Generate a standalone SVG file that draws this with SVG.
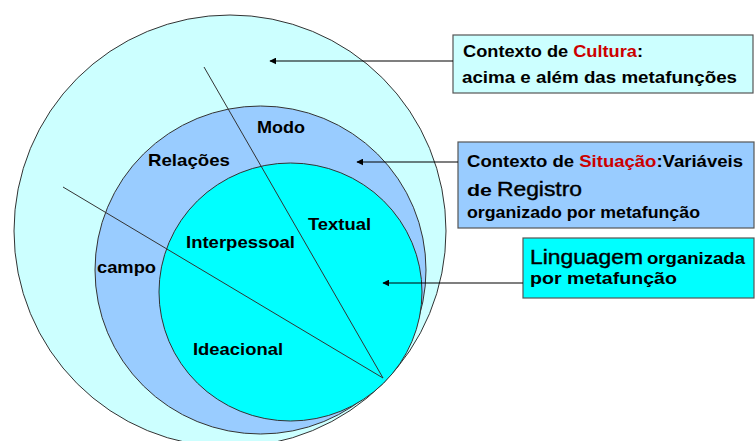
<svg xmlns="http://www.w3.org/2000/svg" width="755" height="441" viewBox="0 0 755 441">
<style>
.c{stroke:#333;stroke-width:1}
.l{font-family:"Liberation Sans",Arial,sans-serif;font-weight:bold;font-size:17px;fill:#000}
.b{font-family:"Liberation Sans",Arial,sans-serif;font-weight:bold;font-size:17px;fill:#000}
.n{font-family:"Liberation Sans",Arial,sans-serif;font-size:20px;fill:#000;stroke:#000;stroke-width:0.4}
.r{fill:#cc0000}
.box{stroke:#555;stroke-width:1.2}
.con{stroke:#000;stroke-width:1.2;fill:none;marker-end:url(#ah)}
</style>
<defs>
<marker id="ah" viewBox="0 0 10 10" refX="9" refY="5" markerWidth="7" markerHeight="7" markerUnits="userSpaceOnUse" orient="auto">
<path d="M0,0 L10,5 L0,10 z" fill="#000"/>
</marker>
</defs>
<rect width="755" height="441" fill="#fff"/>
<g id="cultura-circle"><circle cx="230" cy="231" r="216" fill="#ccffff" class="c"/></g>
<g id="situacao-circle"><ellipse cx="260.5" cy="270" rx="165.5" ry="164" fill="#99ccff" class="c"/></g>
<g id="linguagem-circle"><ellipse cx="290.5" cy="292" rx="131.5" ry="129" fill="#00ffff" class="c"/></g>
<g id="dividers">
<line x1="204" y1="67" x2="383" y2="378" class="c"/>
<line x1="63" y1="187" x2="383" y2="378" class="c"/>
</g>
<g id="labels">
<text x="257" y="133" class="l" textLength="48" lengthAdjust="spacingAndGlyphs">Modo</text>
<text x="148" y="166" class="l" textLength="82" lengthAdjust="spacingAndGlyphs">Relações</text>
<text x="308" y="230" class="l" textLength="63" lengthAdjust="spacingAndGlyphs">Textual</text>
<text x="186" y="248" class="l" textLength="109" lengthAdjust="spacingAndGlyphs">Interpessoal</text>
<text x="97" y="273" class="l" textLength="59" lengthAdjust="spacingAndGlyphs">campo</text>
<text x="193" y="355" class="l" textLength="90" lengthAdjust="spacingAndGlyphs">Ideacional</text>
</g>
<g id="box-cultura">
<rect x="453" y="35" width="300" height="58" fill="#ccffff" class="box"/>
<text x="463" y="57" class="b" textLength="180" lengthAdjust="spacingAndGlyphs">Contexto de <tspan class="r">Cultura</tspan>:</text>
<text x="462" y="83" class="b" textLength="275" lengthAdjust="spacingAndGlyphs">acima e além das metafunções</text>
</g>
<g id="box-situacao">
<rect x="458" y="142" width="296" height="86" fill="#99ccff" class="box"/>
<text x="467" y="167" class="b" textLength="276" lengthAdjust="spacingAndGlyphs">Contexto de <tspan class="r">Situação</tspan>:Variáveis</text>
<text x="467" y="196" class="b" textLength="25" lengthAdjust="spacingAndGlyphs">de</text>
<text x="497" y="196" class="n" textLength="85" lengthAdjust="spacingAndGlyphs">Registro</text>
<text x="467" y="218" class="b" textLength="233" lengthAdjust="spacingAndGlyphs">organizado por metafunção</text>
</g>
<g id="box-linguagem">
<rect x="523" y="238" width="231" height="60" fill="#00ffff" class="box"/>
<text x="530" y="264" class="n" textLength="113" lengthAdjust="spacingAndGlyphs">Linguagem</text>
<text x="647" y="264" class="b" textLength="98" lengthAdjust="spacingAndGlyphs">organizada</text>
<text x="530" y="284" class="b" textLength="147" lengthAdjust="spacingAndGlyphs">por metafunção</text>
</g>
<g id="connectors">
<line x1="453" y1="61" x2="270" y2="61" class="con"/>
<line x1="458" y1="162" x2="357" y2="162" class="con"/>
<line x1="523" y1="283" x2="383" y2="283" class="con"/>
</g>
</svg>
